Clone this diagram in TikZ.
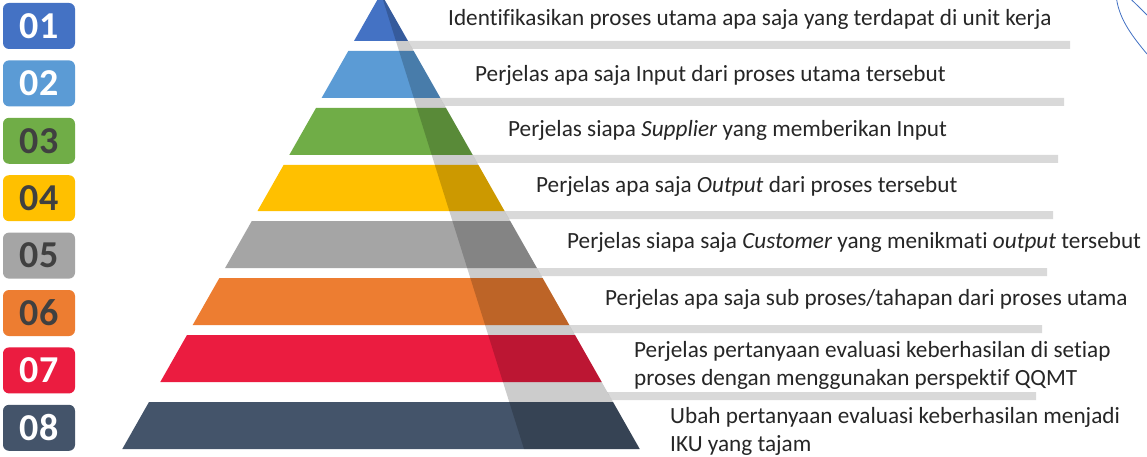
\documentclass[tikz,border=0pt]{standalone}
\usepackage{fontspec}
\setmainfont{Carlito}[Ligatures=NoCommon]
\usepackage{xcolor}
\usepackage{tikz}
\usetikzlibrary{positioning}
\definecolor{lvlone}{HTML}{4472C4}
\definecolor{lvltwo}{HTML}{5B9BD5}
\definecolor{lvlthree}{HTML}{70AD47}
\definecolor{lvlfour}{HTML}{FFC000}
\definecolor{lvlfive}{HTML}{A5A5A5}
\definecolor{lvlsix}{HTML}{ED7D31}
\definecolor{lvlseven}{HTML}{EB1C40}
\definecolor{lvleight}{HTML}{44546A}
\definecolor{numdark}{HTML}{404040}
\definecolor{textdark}{HTML}{262626}
\definecolor{shelfgray}{HTML}{D9D9D9}
\tikzstyle{numbox} = [rectangle, rounded corners=6pt, minimum width=72pt, minimum height=46pt, inner sep=0pt, text=white, font=\fontsize{38}{40}\selectfont\bfseries]
\tikzstyle{desc} = [anchor=base west, inner sep=0pt, text=textdark, align=left, font=\fontsize{23.2}{28}\selectfont]
\tikzstyle{shelf} = [fill=shelfgray]
\tikzstyle{shade} = [fill=black, opacity=0.2]
\tikzstyle{deco} = [draw=lvlone, line width=0.8pt]

\begin{document}
\begin{tikzpicture}[x=1pt, y=-1pt]
    \clip (0,0) rectangle (1147,457);
    \fill[white] (0,0) rectangle (1147,457);

    % Shelves behind the pyramid
    \fill[shelf] (408,41) -- (1070,41) -- (1070,49) -- (412.5,49) -- cycle;
    \fill[shelf] (440.4,98) -- (1064,98) -- (1064,106) -- (444.9,106) -- cycle;
    \fill[shelf] (472.7,155) -- (1058,155) -- (1058,163) -- (477.3,163) -- cycle;
    \fill[shelf] (504.5,211) -- (1053,211) -- (1053,219) -- (509.1,219) -- cycle;
    \fill[shelf] (536.9,268) -- (1047,268) -- (1047,276) -- (541.5,276) -- cycle;
    \fill[shelf] (569.3,325) -- (1042,325) -- (1042,333) -- (573.8,333) -- cycle;
    \fill[shelf] (607.3,392) -- (1036,392) -- (1036,400) -- (611.9,400) -- cycle;

    % Pyramid layers
    \fill[lvlone] (381,-6.5) -- (408,41) -- (354,41) -- cycle;
    \fill[lvltwo] (348.3,51) -- (413.7,51) -- (440.4,98) -- (321.6,98) -- cycle;
    \fill[lvlthree] (316,108) -- (446,108) -- (472.7,155) -- (289.3,155) -- cycle;
    \fill[lvlfour] (283.6,165) -- (478.4,165) -- (504.5,211) -- (257.5,211) -- cycle;
    \fill[lvlfive] (251.8,221) -- (510.2,221) -- (536.9,268) -- (225.1,268) -- cycle;
    \fill[lvlsix] (219.4,278) -- (542.6,278) -- (569.3,325) -- (192.7,325) -- cycle;
    \fill[lvlseven] (187,335) -- (575,335) -- (601.7,382) -- (160.3,382) -- cycle;
    \fill[lvleight] (149,402) -- (613,402) -- (639.7,449) -- (122.3,449) -- cycle;

    % Side shadow
    \fill[shade] (381,-6.5) -- (639.7,449) -- (524,449) -- cycle;

    % Step numbers
    \node[numbox, fill=lvlone] (num1) at (39,26) {01};
    \node[numbox, fill=lvltwo, below=11pt of num1] (num2) {02};
    \node[numbox, fill=lvlthree, text=numdark, below=11pt of num2] (num3) {03};
    \node[numbox, fill=lvlfour, text=numdark, below=11pt of num3] (num4) {04};
    \node[numbox, fill=lvlfive, text=numdark, below=11pt of num4] (num5) {05};
    \node[numbox, fill=lvlsix, text=numdark, below=11pt of num5] (num6) {06};
    \node[numbox, fill=lvlseven, below=11pt of num6] (num7) {07};
    \node[numbox, fill=lvleight, below=11pt of num7] (num8) {08};

    % Step descriptions (two-line ones sit on their last baseline)
    \node[desc] (txt1) at (448,26) {Identifikasikan proses utama apa saja yang terdapat di unit kerja};
    \node[desc] (txt2) at (475,82) {Perjelas apa saja Input dari proses utama tersebut};
    \node[desc] (txt3) at (508,137) {Perjelas siapa \textit{Supplier} yang memberikan Input};
    \node[desc] (txt4) at (536,193) {Perjelas apa saja \textit{Output} dari proses tersebut};
    \node[desc] (txt5) at (567,248) {Perjelas siapa saja \textit{Customer} yang menikmati \textit{output} tersebut};
    \node[desc] (txt6) at (605,305) {Perjelas apa saja sub proses/tahapan dari proses utama};
    \node[desc] (txt7) at (634,385) {Perjelas pertanyaan evaluasi keberhasilan di setiap\\proses dengan menggunakan perspektif QQMT};
    \node[desc] (txt8) at (670,451) {Ubah pertanyaan evaluasi keberhasilan menjadi\\IKU yang tajam};

    % Corner ornament
    \draw[deco] (1116.7,0) .. controls (1120,20) and (1132,36) .. (1147,54);
    \draw[deco] (1131.7,0) .. controls (1138,6) .. (1147,15);
\end{tikzpicture}
\end{document}
